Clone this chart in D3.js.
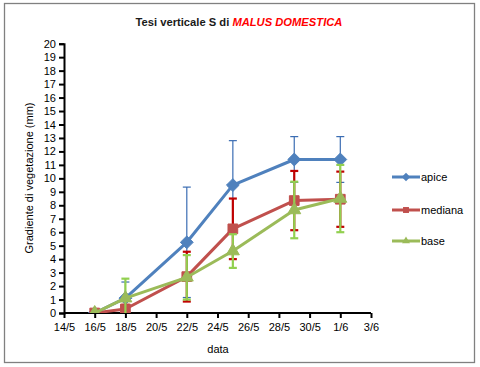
<!DOCTYPE html>
<html><head><meta charset="utf-8">
<script src="https://cdn.jsdelivr.net/npm/d3@7"></script>
<style>body{margin:0;background:#fff}svg{display:block}text{font-family:"Liberation Sans",Arial,sans-serif}</style>
</head><body><svg id="c" width="480" height="367"></svg>
<script>
const dates = ["2011-05-16","2011-05-18","2011-05-22","2011-05-25","2011-05-29","2011-06-01"];
const apice = [0, 1.1, 5.25, 9.5, 11.4, 11.4];
const apiceErr = [0, 1.2, 4.1, 3.3, 1.7, 1.7];
const mediana = [0, 0.3, 2.7, 6.25, 8.35, 8.45];
const medianaErr = [0, 0.3, 1.85, 2.25, 2.2, 2.05];
const base = [0, 1.1, 2.65, 4.6, 7.65, 8.5];
const baseErr = [0, 1.45, 1.65, 1.25, 2.1, 2.5];
const seriesNames = ["apice","mediana","base"];
const xDomain = ["2011-05-14","2011-06-03"];
const yTicks = d3.range(0, 21, 1);

const parse = d3.utcParse("%Y-%m-%d");
const svg = d3.select("#c");
svg.append("rect").attr("x",4.5).attr("y",3.5).attr("width",470).attr("height",359)
  .attr("fill","#fff").attr("stroke","#808080").attr("stroke-width",1.3);

const x = d3.scaleUtc().domain(xDomain.map(parse)).range([64, 371]);
const y = d3.scaleLinear().domain([0, 20]).range([313, 43.7]);

// title
const title = svg.append("text").attr("x", 239).attr("y", 26).attr("text-anchor","middle")
  .attr("font-size", 11.2).attr("font-weight","bold");
title.append("tspan").attr("fill","#1a1a1a").text("Tesi verticale S di ");
title.append("tspan").attr("fill","#ff0000").attr("font-style","italic").text("MALUS DOMESTICA");

// axes
const xTickVals = d3.utcDay.range(parse(xDomain[0]), d3.utcDay.offset(parse(xDomain[1]),1), 2);
const xAxis = d3.axisBottom(x).tickValues(xTickVals).tickFormat(d3.utcFormat("%-d/%-m")).tickSizeOuter(0).tickSize(5).tickPadding(5);
const gx = svg.append("g").attr("transform",`translate(0,${y(0)})`).call(xAxis);
const yAxis = d3.axisLeft(y).tickValues(yTicks).tickFormat(d3.format("d")).tickSizeOuter(0).tickSize(5).tickPadding(3);
const gy = svg.append("g").attr("transform",`translate(${x.range()[0]},0)`).call(yAxis);
[gx, gy].forEach(g => {
  g.select(".domain").attr("stroke","#000").attr("stroke-width",2);
  g.selectAll(".tick line").attr("stroke","#000").attr("stroke-width",2);
  g.selectAll(".tick text").attr("font-size",11).attr("fill","#000").attr("font-family","Liberation Sans, Arial, sans-serif");
});
gx.select(".domain").attr("d", `M${x.range()[0]},0H${x.range()[1]}`);

svg.append("text").attr("x", 218).attr("y", 353).attr("text-anchor","middle").attr("font-size",11).text("data");
svg.append("text").attr("transform","translate(33,178) rotate(-90)").attr("text-anchor","middle")
  .attr("font-size",11).text("Gradiente di vegetazione (mm)");

// clip
svg.append("clipPath").attr("id","pa").append("rect").attr("x",60).attr("y",40).attr("width",320).attr("height",y(0)-40);

const series = [
  {name: seriesNames[0], vals: apice, err: apiceErr, color:"#4f81bd", ecol:"#3b6db3", ew:1.2, shape:d3.symbolDiamond2, size:105},
  {name: seriesNames[1], vals: mediana, err: medianaErr, color:"#c0504d", ecol:"#c00000", ew:2.2, shape:d3.symbolSquare2, size:120},
  {name: seriesNames[2], vals: base, err: baseErr, color:"#9bbb59", ecol:"#92d050", ew:2.2, shape:d3.symbolTriangle2, size:120}
];
const dts = dates.map(parse);
const line = d3.line().x((d,i)=>x(dts[i])).y(d=>y(d));
const plot = svg.append("g").attr("clip-path","url(#pa)");

series.forEach(s => {
  const g = plot.append("g");
  const eb = g.append("g").attr("stroke", s.ecol).attr("stroke-width", s.ew);
  s.vals.forEach((v,i) => {
    if (!s.err[i]) return;
    const cx = x(dts[i]), t = y(v + s.err[i]), b = y(v - s.err[i]);
    eb.append("line").attr("x1",cx).attr("x2",cx).attr("y1",t).attr("y2",b);
    eb.append("line").attr("x1",cx-4).attr("x2",cx+4).attr("y1",t).attr("y2",t);
    eb.append("line").attr("x1",cx-4).attr("x2",cx+4).attr("y1",b).attr("y2",b);
  });
  g.append("path").attr("d", line(s.vals)).attr("fill","none").attr("stroke", s.color).attr("stroke-width",3).attr("stroke-linejoin","round");
  g.selectAll("path.m").data(s.vals).join("path").attr("class","m")
    .attr("transform",(d,i)=>`translate(${x(dts[i])},${y(d)})`)
    .attr("d", d3.symbol(s.shape, s.size)).attr("fill", s.color).attr("stroke", s.color).attr("stroke-width",1);
});

// legend
const lg = svg.append("g");
const ly = [177, 210, 241];
series.forEach((s,i) => {
  const gy2 = lg.append("g").attr("transform",`translate(0,${ly[i]})`);
  gy2.append("line").attr("x1",392).attr("x2",420).attr("y1",0).attr("y2",0).attr("stroke",s.color).attr("stroke-width",3);
  gy2.append("path").attr("transform","translate(406,0)").attr("d", d3.symbol(s.shape, 45)).attr("fill",s.color);
  gy2.append("text").attr("x",421).attr("y",4).attr("font-size",11).text(s.name);
});
</script></body></html>
